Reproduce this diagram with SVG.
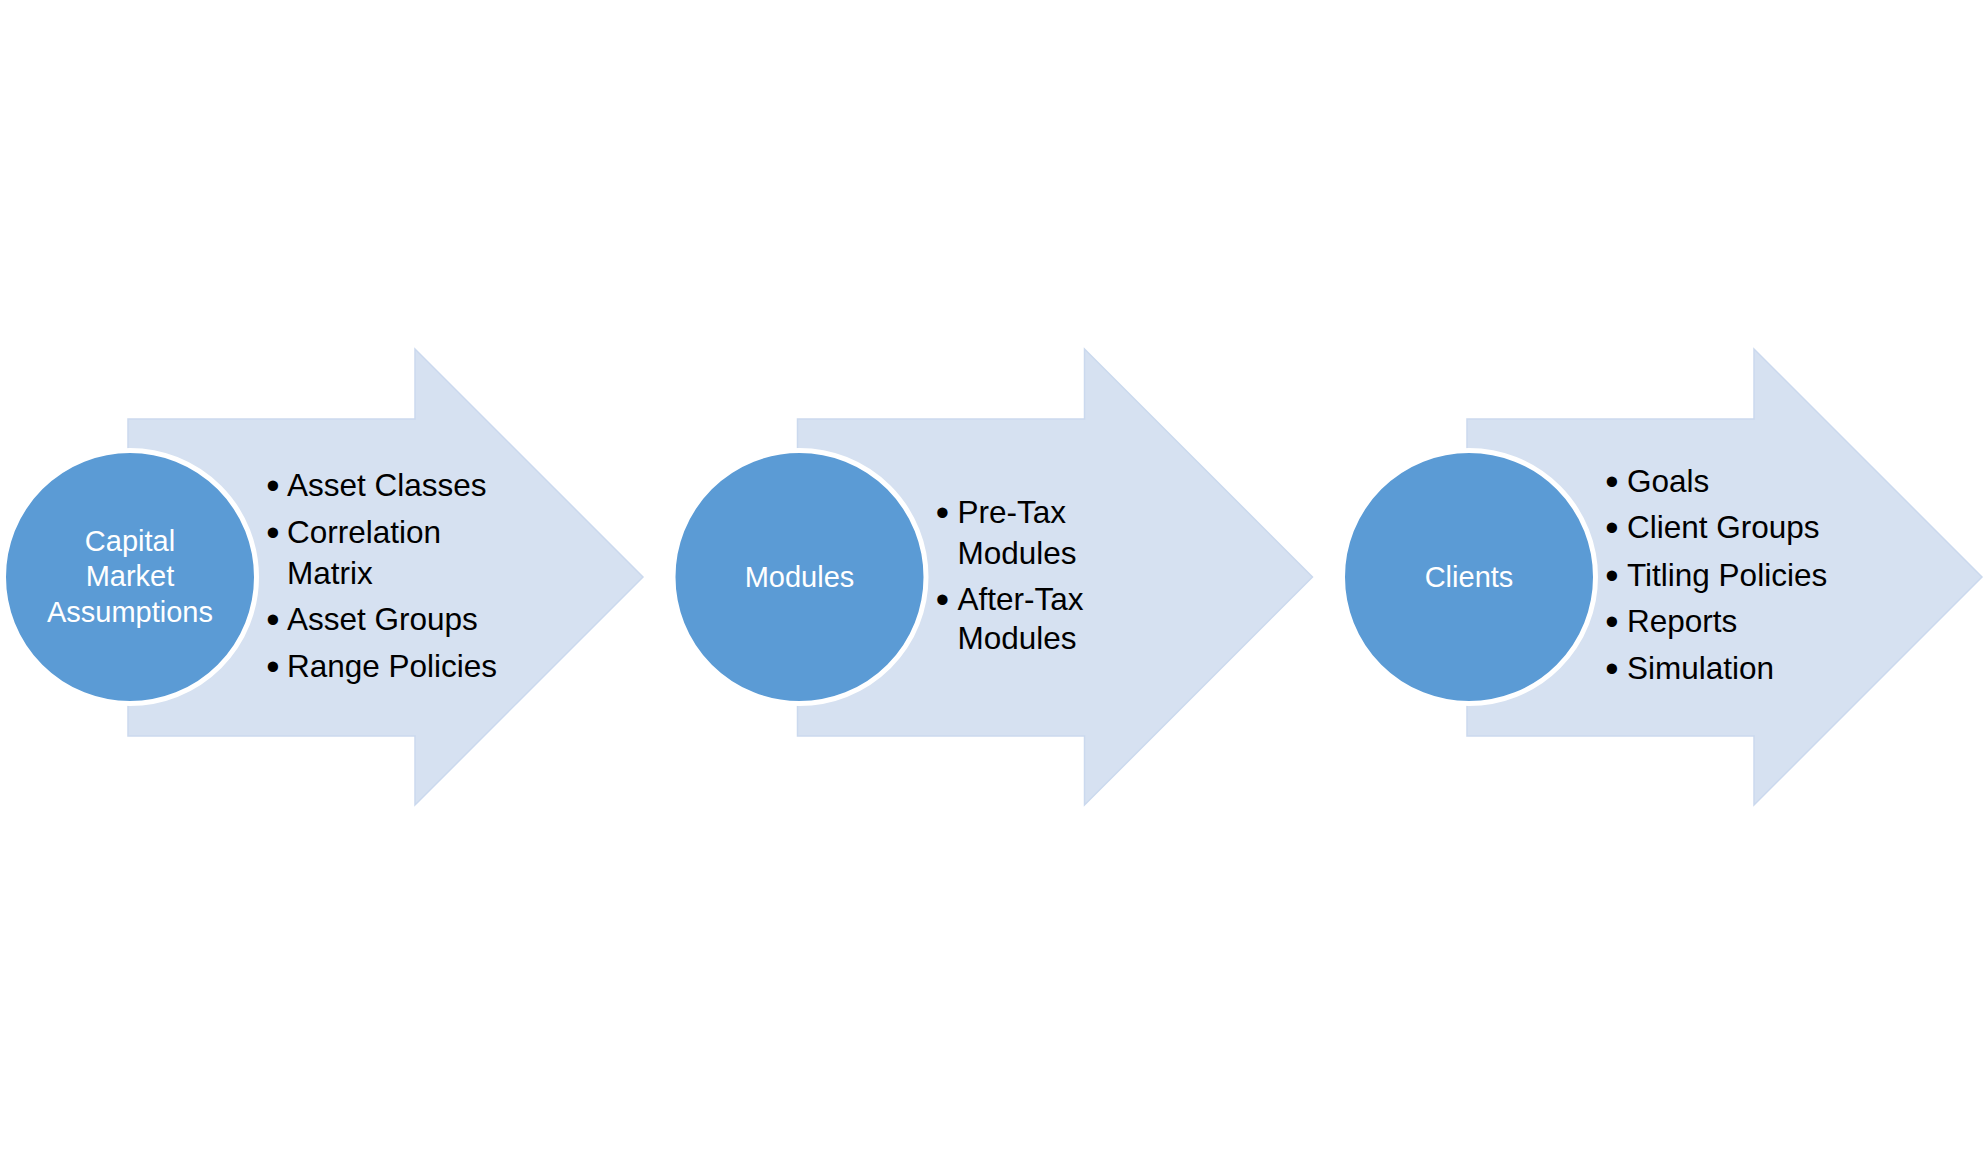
<svg xmlns="http://www.w3.org/2000/svg" width="1985" height="1155" viewBox="0 0 1985 1155">
  <style>
    .arrow { fill: #D6E1F1; stroke: #CBD9EE; stroke-width: 1.5; }
    .circ { fill: #5B9BD5; stroke: #FFFFFF; stroke-width: 5; }
    .clabel { font-family: "Liberation Sans", Arial, sans-serif; font-size: 29px; fill: #FFFFFF; text-anchor: middle; }
    .item { font-family: "Liberation Sans", Arial, sans-serif; font-size: 31.5px; fill: #000000; }
    .bul { font-family: "Liberation Sans", Arial, sans-serif; font-size: 38px; fill: #000000; text-anchor: middle; }
  </style>
  <defs>
    <path id="arrowShape" d="M128,419 H415 V349 L643,577 L415,805 V736 H128 Z"/>
  </defs>
  <rect width="1985" height="1155" fill="#FFFFFF"/>
  <g id="connectors"/>
  <g id="node-capital-market">
    <use href="#arrowShape" class="arrow"/>
    <circle class="circ" cx="130" cy="577" r="126.5"/>
    <text class="clabel" x="130" y="551">Capital</text>
    <text class="clabel" x="130" y="586">Market</text>
    <text class="clabel" x="130" y="622">Assumptions</text>
    <text class="bul" x="273" y="499">•</text>
    <text class="item" x="287" y="496">Asset Classes</text>
    <text class="bul" x="273" y="546">•</text>
    <text class="item" x="287" y="543">Correlation</text>
    <text class="item" x="287" y="584">Matrix</text>
    <text class="bul" x="273" y="633">•</text>
    <text class="item" x="287" y="630">Asset Groups</text>
    <text class="bul" x="273" y="680">•</text>
    <text class="item" x="287" y="677">Range Policies</text>
  </g>
  <g id="node-modules" transform="translate(669.5,0)">
    <use href="#arrowShape" class="arrow"/>
    <circle class="circ" cx="130" cy="577" r="126.5"/>
    <text class="clabel" x="130" y="587">Modules</text>
    <text class="bul" x="273" y="526">•</text>
    <text class="item" x="288" y="523">Pre-Tax</text>
    <text class="item" x="288" y="564">Modules</text>
    <text class="bul" x="273" y="613">•</text>
    <text class="item" x="288" y="610">After-Tax</text>
    <text class="item" x="288" y="649">Modules</text>
  </g>
  <g id="node-clients" transform="translate(1339,0)">
    <use href="#arrowShape" class="arrow"/>
    <circle class="circ" cx="130" cy="577" r="126.5"/>
    <text class="clabel" x="130" y="587">Clients</text>
    <text class="bul" x="273" y="495">•</text>
    <text class="item" x="288" y="492">Goals</text>
    <text class="bul" x="273" y="541">•</text>
    <text class="item" x="288" y="538">Client Groups</text>
    <text class="bul" x="273" y="589">•</text>
    <text class="item" x="288" y="586">Titling Policies</text>
    <text class="bul" x="273" y="635">•</text>
    <text class="item" x="288" y="632">Reports</text>
    <text class="bul" x="273" y="682">•</text>
    <text class="item" x="288" y="679">Simulation</text>
  </g>
</svg>
